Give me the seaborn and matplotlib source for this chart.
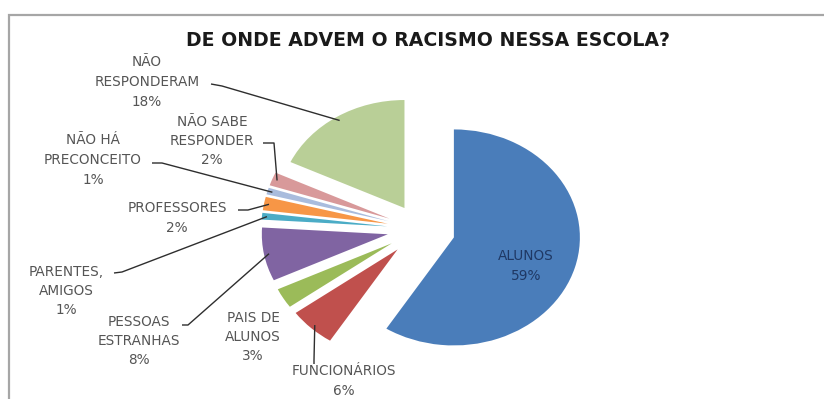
import matplotlib
matplotlib.use("Agg")
import matplotlib.pyplot as plt
import numpy as np
import seaborn as sns
from matplotlib.patches import Rectangle

# Survey answers: where racism at the school comes from
categories = ["ALUNOS", "FUNCIONÁRIOS", "PAIS DE\nALUNOS", "PESSOAS\nESTRANHAS",
              "PARENTES,\nAMIGOS", "PROFESSORES", "NÃO HÁ\nPRECONCEITO",
              "NÃO SABE\nRESPONDER", "NÃO\nRESPONDERAM"]
percentages = [59, 6, 3, 8, 1, 2, 1, 2, 18]
colors = ["#4A7DBA", "#C0504D", "#9BBB59", "#8064A2", "#4BACC6",
          "#F79646", "#A9BCDD", "#D8999A", "#B9CF97"]
explode = [0.28, 0.26, 0.26, 0.26, 0.26, 0.26, 0.26, 0.26, 0.23]

title = "DE ONDE ADVEM O RACISMO NESSA ESCOLA?"

sns.set_theme(style="white")
plt.rcParams["font.family"] = ["DejaVu Sans"]

W, H = 824, 399
fig = plt.figure(figsize=(W / 100, H / 100), dpi=100)
ax = fig.add_axes([0, 0, 1, 1])

wedges, _ = ax.pie(percentages, colors=colors, explode=explode, startangle=90,
                   counterclock=False, radius=1, wedgeprops=dict(linewidth=0))

# the pie is drawn slightly wider than tall: unit radius = 126 px across, 108 px down
CX, CY, SX, SY = 420, 229, 126, 108
ax.set_aspect("auto")
ax.set_xlim(-CX / SX, (W - CX) / SX)
ax.set_ylim(-(H - CY) / SY, CY / SY)
ax.axis("off")


def px(x, y):
    """pixel position (from top-left) -> data coordinates"""
    return ((x - CX) / SX, (CY - y) / SY)


label_color = "#555555"
line_color = "#2E2E2E"

# label block centres (pixels) and leader lines: (start, knee) in pixels
label_pos = [(526, 266), (344, 381), (253, 337), (139, 341), (66, 291),
             (177, 218), (93, 160), (212, 141), (147, 82)]
leaders = [None, ((314, 364), (314, 360)), None, ((182, 325), (188, 325)),
           ((114, 273), (122, 272)), ((238, 210), (248, 210)),
           ((152, 163), (162, 163)), ((263, 143), (274, 143)),
           ((211, 84), (222, 86))]

for i, (w, name, pct) in enumerate(zip(wedges, categories, percentages)):
    x, y = px(*label_pos[i])
    inside = i == 0
    ax.text(x, y, f"{name}\n{pct}%", ha="center", va="center",
            fontsize=9.8, linespacing=1.5,
            color="#1F3864" if inside else label_color)
    if leaders[i] is not None:
        mid = np.deg2rad((w.theta1 + w.theta2) / 2)
        cx, cy = w.center
        ex, ey = cx + 0.96 * np.cos(mid), cy + 0.96 * np.sin(mid)
        (sx, sy), (kx, ky) = leaders[i]
        p0, p1 = px(sx, sy), px(kx, ky)
        ax.plot([p0[0], p1[0], ex], [p0[1], p1[1], ey], color=line_color,
                lw=1.0, solid_capstyle="butt")

fig.text(428 / W, 1 - 41 / H, title, ha="center", va="center",
         fontsize=13.6, fontweight="bold", color="#1A1A1A")

# chart-area border (open to the right and bottom)
fig.patches.append(Rectangle((9 / W, -0.1), 2, 1.1 - 15 / H, transform=fig.transFigure,
                             fill=False, edgecolor="#A6A6A6", lw=1.6))

fig.savefig("out.png", dpi=100)
